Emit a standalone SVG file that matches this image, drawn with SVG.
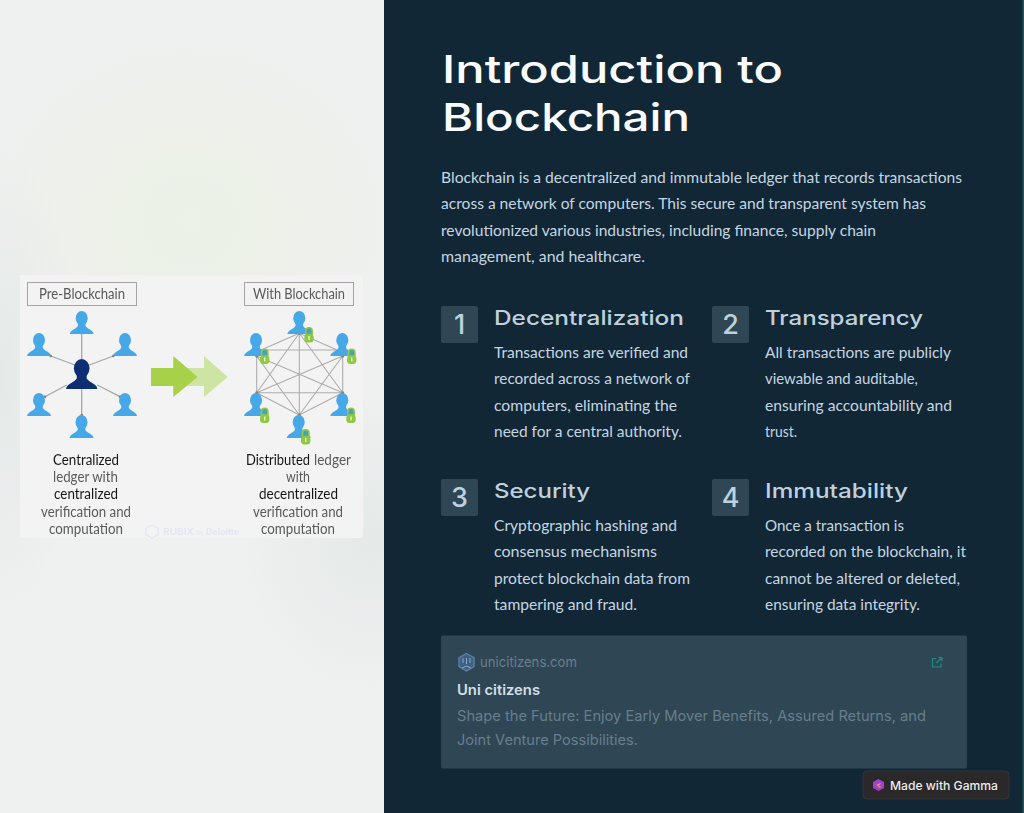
<svg xmlns="http://www.w3.org/2000/svg" xmlns:xlink="http://www.w3.org/1999/xlink" width="1024" height="813" viewBox="0 0 1024 813">
<style>
.h1{font:500 38px Inter,"Liberation Sans",sans-serif;fill:#fafcfd}
.lead{font:400 16.2px Lato,"Open Sans",sans-serif;fill:#c5d6e1}
.hd{font:500 20px Inter,"Liberation Sans",sans-serif;fill:#bed1dd}
.num{font:500 27px Inter,"Liberation Sans",sans-serif;fill:#bed1dd;text-anchor:middle}
.sq{fill:#2f4655}
.ct{font:400 14.5px Inter,"Liberation Sans",sans-serif;fill:#687e8c}
.img{font:400 14.5px Lato,"Open Sans",sans-serif;fill:#5a5a5a}
.dk{fill:#161616}
.lnk{stroke:#a6a6a6;stroke-width:1.3;fill:none}
.lnk2{stroke:#adadad;stroke-width:1.1;fill:none}
.end{fill:#7f7f7f}
.box{fill:none;stroke:#a4a4a4;stroke-width:1}
</style>
<defs>
<radialGradient id="g1" cx="0.5" cy="0.5" r="0.5"><stop offset="0" stop-color="#eaf2df" stop-opacity=".7"/><stop offset="1" stop-color="#eaf2df" stop-opacity="0"/></radialGradient>
<radialGradient id="g2" cx="0.5" cy="0.5" r="0.5"><stop offset="0" stop-color="#dfe6e4" stop-opacity=".65"/><stop offset="1" stop-color="#dfe6e4" stop-opacity="0"/></radialGradient>
<filter id="soft" x="-2%" y="-2%" width="104%" height="104%"><feGaussianBlur stdDeviation="0.35"/></filter>
<g id="person"><ellipse cx="0" cy="7.2" rx="6" ry="7.2"/><path d="M-3.800 12 L-3.800 15 Q-5 17 -9 19 Q-12 21 -12 23 L12 23 Q12 21 9 19 Q5 17 3.800 15 L3.800 12 Z"/></g>
<g id="lock"><path d="M-3.200 -0.500 V-4 A3.200 3.200 0 0 1 3.200 -4 V-0.500 Z" fill="#4a9fc4" stroke="#8fc93f" stroke-width="1.600"/><rect x="-4.700" y="-1" width="9.400" height="8.500" rx="3.500" fill="#8fc93f"/><rect x="-0.600" y="1" width="1.300" height="4" fill="#f0f4e0"/></g>
</defs>

<rect id="left-bg" x="0" y="0" width="384" height="813" fill="#eff0f0"/>
<ellipse cx="190" cy="220" rx="210" ry="190" fill="url(#g1)"/>
<ellipse cx="0" cy="380" rx="90" ry="230" fill="url(#g2)"/>
<ellipse cx="370" cy="540" rx="130" ry="150" fill="url(#g2)"/>
<rect id="right-bg" x="384" y="0" width="640" height="813" fill="#112736"/>
<rect x="1022.500" y="0" width="1.500" height="813" fill="#1c5a52"/>

<g id="figure" filter="url(#soft)">
<rect x="20" y="275" width="343" height="263" rx="1" fill="#f3f3f3"/>
<g id="watermark" fill="#e2e6f2" font-family="Inter,'Liberation Sans',sans-serif" font-size="9" font-weight="700">
<path d="M152 525 l6 3.300 v6.400 l-6 3.300 l-6 -3.300 v-6.400 Z" fill="none" stroke="#e2e6f2" stroke-width="1.300"/>
<text x="163" y="535" textLength="31" lengthAdjust="spacingAndGlyphs">RUBIX</text>
<text x="197" y="535" font-size="6" font-weight="400" textLength="7" lengthAdjust="spacingAndGlyphs">by</text>
<text x="206" y="535" textLength="33" lengthAdjust="spacingAndGlyphs">Deloitte</text>
</g>

<g id="connectors">
<path class="lnk" d="M81.700 333V359M81.700 388V415M50.700 356L75 365M113.300 356L89.300 365M45 396.700L66.700 385M120 396.700L97.300 385"/>
<path class="lnk2" d="M299.300 333.300L261 350M299.300 333.300L337 350M261 350H337M256.700 356V392.700M342.700 356V392.700M256.700 392.700H342.700M256.700 392.700L299.300 415M342.700 392.700L299.300 415M299.300 333.300V415M299.300 333.300L256.700 392.700M299.300 333.300L342.700 392.700M299.300 415L256.700 356M299.300 415L342.700 356M256.700 356L342.700 392.700M342.700 356L256.700 392.700"/>
<g class="end">
<circle cx="81.700" cy="333" r="1.300"/><circle cx="81.700" cy="415" r="1.300"/><circle cx="50.700" cy="356" r="1.300"/><circle cx="113.300" cy="356" r="1.300"/><circle cx="45" cy="396.700" r="1.300"/><circle cx="120" cy="396.700" r="1.300"/>
<circle cx="299.300" cy="333.300" r="1.500"/><circle cx="256.700" cy="356" r="1.500"/><circle cx="342.700" cy="356" r="1.500"/><circle cx="256.700" cy="392.700" r="1.500"/><circle cx="342.700" cy="392.700" r="1.500"/><circle cx="299.300" cy="415" r="1.500"/>
</g>
</g>

<g id="pre-label"><rect class="box" x="27.500" y="282.500" width="109" height="23"/><text class="img" x="39" y="299" textLength="86" lengthAdjust="spacingAndGlyphs">Pre-Blockchain</text></g>
<g id="with-label"><rect class="box" x="244.500" y="282.500" width="109" height="23"/><text class="img" x="253" y="299" textLength="92" lengthAdjust="spacingAndGlyphs">With Blockchain</text></g>

<g id="pre-nodes" fill="#47a8e8">
<use id="p1" xlink:href="#person" href="#person" x="81.700" y="311"/>
<use id="p2" xlink:href="#person" href="#person" x="39" y="333"/>
<use id="p3" xlink:href="#person" href="#person" x="125" y="333"/>
<use id="p4" xlink:href="#person" href="#person" x="39" y="393"/>
<use id="p5" xlink:href="#person" href="#person" x="125" y="393"/>
<use id="p6" xlink:href="#person" href="#person" x="81.500" y="415"/>
<use id="hub" xlink:href="#person" href="#person" transform="translate(81.700 359) scale(1.300)" fill="#0c2d72"/>
</g>

<g id="arrows">
<path id="arrow-light" d="M173 368H204V356L227.700 377L204 397V386H173Z" fill="#cde4a2"/>
<path id="arrow-solid" d="M151 368H173.300V356L197.500 377L173.300 397V386H151Z" fill="#a6d14a"/>
</g>

<g id="post-nodes" fill="#47a8e8">
<use id="q1" xlink:href="#person" href="#person" x="299.300" y="311"/>
<use id="q2" xlink:href="#person" href="#person" x="256" y="333"/>
<use id="q3" xlink:href="#person" href="#person" x="342.300" y="333"/>
<use id="q4" xlink:href="#person" href="#person" x="256" y="393"/>
<use id="q5" xlink:href="#person" href="#person" x="342.300" y="393"/>
<use id="q6" xlink:href="#person" href="#person" x="298.700" y="415"/>
</g>
<g id="locks">
<use xlink:href="#lock" href="#lock" x="309" y="335"/>
<use xlink:href="#lock" href="#lock" x="264.700" y="356.500"/>
<use xlink:href="#lock" href="#lock" x="351.700" y="356.500"/>
<use xlink:href="#lock" href="#lock" x="264.700" y="415.500"/>
<use xlink:href="#lock" href="#lock" x="351" y="415.500"/>
<use xlink:href="#lock" href="#lock" x="305.700" y="437"/>
</g>

<g id="pre-caption">
<text class="img dk" x="53" y="465" textLength="66" lengthAdjust="spacingAndGlyphs">Centralized</text>
<text class="img" x="53" y="482.200" textLength="65" lengthAdjust="spacingAndGlyphs">ledger with</text>
<text class="img dk" x="54" y="499.400" textLength="64" lengthAdjust="spacingAndGlyphs">centralized</text>
<text class="img" x="41" y="516.600" textLength="90" lengthAdjust="spacingAndGlyphs">verification and</text>
<text class="img" x="49" y="533.800" textLength="74" lengthAdjust="spacingAndGlyphs">computation</text>
</g>
<g id="post-caption">
<text class="img dk" x="246" y="465" textLength="64" lengthAdjust="spacingAndGlyphs">Distributed</text>
<text class="img" x="314" y="465" textLength="37" lengthAdjust="spacingAndGlyphs">ledger</text>
<text class="img" x="286" y="482.200" textLength="24" lengthAdjust="spacingAndGlyphs">with</text>
<text class="img dk" x="259" y="499.400" textLength="79" lengthAdjust="spacingAndGlyphs">decentralized</text>
<text class="img" x="253" y="516.600" textLength="90" lengthAdjust="spacingAndGlyphs">verification and</text>
<text class="img" x="261" y="533.800" textLength="74" lengthAdjust="spacingAndGlyphs">computation</text>
</g>
</g>

<g id="title">
<text class="h1" x="442" y="83" textLength="341" lengthAdjust="spacingAndGlyphs">Introduction to</text>
<text class="h1" x="442" y="131" textLength="248" lengthAdjust="spacingAndGlyphs">Blockchain</text>
</g>
<g id="intro">
<text class="lead" x="441" y="183" textLength="521" lengthAdjust="spacingAndGlyphs">Blockchain is a decentralized and immutable ledger that records transactions</text>
<text class="lead" x="441" y="209" textLength="485" lengthAdjust="spacingAndGlyphs">across a network of computers. This secure and transparent system has</text>
<text class="lead" x="441" y="235.500" textLength="435" lengthAdjust="spacingAndGlyphs">revolutionized various industries, including finance, supply chain</text>
<text class="lead" x="441" y="262" textLength="204" lengthAdjust="spacingAndGlyphs">management, and healthcare.</text>
</g>

<g id="item-1">
<rect class="sq" x="441" y="306" width="37" height="37" rx="2"/><text class="num" x="459.500" y="334">1</text>
<text class="hd" x="494" y="325" textLength="190" lengthAdjust="spacingAndGlyphs">Decentralization</text>
<text class="lead" x="494" y="357.500" textLength="194" lengthAdjust="spacingAndGlyphs">Transactions are verified and</text>
<text class="lead" x="494" y="383.500" textLength="196" lengthAdjust="spacingAndGlyphs">recorded across a network of</text>
<text class="lead" x="494" y="410.500" textLength="183" lengthAdjust="spacingAndGlyphs">computers, eliminating the</text>
<text class="lead" x="494" y="436.500" textLength="188" lengthAdjust="spacingAndGlyphs">need for a central authority.</text>
</g>
<g id="item-2">
<rect class="sq" x="712" y="306" width="37" height="37" rx="2"/><text class="num" x="730.500" y="334">2</text>
<text class="hd" x="765" y="325" textLength="158" lengthAdjust="spacingAndGlyphs">Transparency</text>
<text class="lead" x="765" y="357.500" textLength="186" lengthAdjust="spacingAndGlyphs">All transactions are publicly</text>
<text class="lead" x="765" y="383.500" textLength="153" lengthAdjust="spacingAndGlyphs">viewable and auditable,</text>
<text class="lead" x="765" y="410.500" textLength="187" lengthAdjust="spacingAndGlyphs">ensuring accountability and</text>
<text class="lead" x="765" y="436.500" textLength="32" lengthAdjust="spacingAndGlyphs">trust.</text>
</g>
<g id="item-3">
<rect class="sq" x="441" y="479" width="37" height="37" rx="2"/><text class="num" x="459.500" y="507">3</text>
<text class="hd" x="494" y="498" textLength="96" lengthAdjust="spacingAndGlyphs">Security</text>
<text class="lead" x="494" y="530.500" textLength="183" lengthAdjust="spacingAndGlyphs">Cryptographic hashing and</text>
<text class="lead" x="494" y="556.500" textLength="163" lengthAdjust="spacingAndGlyphs">consensus mechanisms</text>
<text class="lead" x="494" y="583.500" textLength="196" lengthAdjust="spacingAndGlyphs">protect blockchain data from</text>
<text class="lead" x="494" y="609.500" textLength="143" lengthAdjust="spacingAndGlyphs">tampering and fraud.</text>
</g>
<g id="item-4">
<rect class="sq" x="712" y="479" width="37" height="37" rx="2"/><text class="num" x="730.500" y="507">4</text>
<text class="hd" x="765" y="498" textLength="143" lengthAdjust="spacingAndGlyphs">Immutability</text>
<text class="lead" x="765" y="530.500" textLength="139" lengthAdjust="spacingAndGlyphs">Once a transaction is</text>
<text class="lead" x="765" y="556.500" textLength="201" lengthAdjust="spacingAndGlyphs">recorded on the blockchain, it</text>
<text class="lead" x="765" y="583.500" textLength="195" lengthAdjust="spacingAndGlyphs">cannot be altered or deleted,</text>
<text class="lead" x="765" y="609.500" textLength="155" lengthAdjust="spacingAndGlyphs">ensuring data integrity.</text>
</g>

<g id="link-card">
<rect x="441" y="635.500" width="526" height="133" rx="2" fill="#2f4655"/>
<g id="site-logo" fill="none" stroke="#5b7fa6" stroke-width="1.400">
<path d="M466.500 653.500l7.500 4.200v9l-7.500 4.200l-7.500 -4.200v-9Z" fill="#3f6080"/>
<path d="M463 658v5M466.500 658v6M470 658v5M462 668l4.500 -2l4.500 2" stroke="#8aa9c8" stroke-width="1"/>
</g>
<text class="ct" x="480" y="667" textLength="97" lengthAdjust="spacingAndGlyphs">unicitizens.com</text>
<g id="ext-icon" fill="none" stroke="#1c8c82" stroke-width="1.200"><path d="M936 658.500h-3.500v8.500h8.500v-3.500M936.500 663l5.500 -5.500M938.500 657.500h3.500v3.500"/></g>
<text x="457" y="695" font-family="Inter,'Liberation Sans',sans-serif" font-size="14.500" font-weight="600" fill="#d2dfe7" textLength="83" lengthAdjust="spacingAndGlyphs">Uni citizens</text>
<text class="ct" x="457" y="721" textLength="469" lengthAdjust="spacingAndGlyphs">Shape the Future: Enjoy Early Mover Benefits, Assured Returns, and</text>
<text class="ct" x="457" y="745" textLength="181" lengthAdjust="spacingAndGlyphs">Joint Venture Possibilities.</text>
</g>

<g id="gamma-badge">
<rect x="863" y="771" width="146" height="28" rx="4" fill="#2a2829" stroke="#39383a" stroke-width="0.800"/>
<path d="M878.500 779l5.500 3v6l-5.500 3l-5.500 -3v-6Z" fill="#a13fd0"/>
<path d="M880.500 783.500l-3 1.500l3 2.500" fill="none" stroke="#f0a040" stroke-width="1.200"/>
<text x="890" y="790" font-family="Inter,'Liberation Sans',sans-serif" font-size="12" font-weight="500" fill="#ececec" textLength="108" lengthAdjust="spacingAndGlyphs">Made with Gamma</text>
</g>
</svg>
